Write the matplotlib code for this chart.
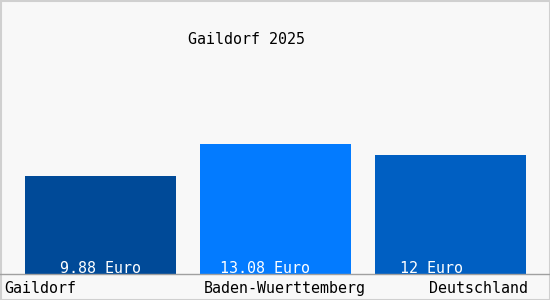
import matplotlib.pyplot as plt

orte = ["Gaildorf", "Baden-Wuerttemberg", "Deutschland"]
werte = [9.88, 13.08, 12.0]
beschriftung = ["9.88 Euro", "13.08 Euro", "12 Euro"]
farben = ["#004a98", "#037bff", "#005fc2"]

W, H = 550, 300
fig = plt.figure(figsize=(W / 100, H / 100), dpi=100)
fig.patch.set_facecolor("#f8f8f8")

# axes placed in pixel terms: baseline at y=274, 9.93 px per Euro
x0, x1 = 13, 538
yb, yt = 274, 20
ax = fig.add_axes([x0 / W, (H - yb) / H, (x1 - x0) / W, (yb - yt) / H])
ax.set_facecolor("#f8f8f8")
ax.set_xlim(-0.5, 2.5)
ax.set_ylim(0, (yb - yt) / 9.93)
for s in ax.spines.values():
    s.set_visible(False)
ax.set_xticks([])
ax.set_yticks([])

pos = range(len(orte))
ax.bar(pos, werte, width=151 / 175, color=farben)

font = "DejaVu Sans Mono"
fs = 10.8
# value labels sit a bit off-centre, like in the original
versatz = [0.0, -0.06, -0.11]
for i, t in enumerate(beschriftung):
    fig.text((x0 + 87.5 + 175 * (i + versatz[i])) / W, 1 - 273 / H, t,
             color="white", ha="center", va="baseline", fontsize=fs, family=font)

# x labels under the baseline
lab_x = [4, 204, 429]
for t, px in zip(orte, lab_x):
    fig.text(px / W, 1 - 293 / H, t, ha="left", va="baseline", fontsize=fs,
             family=font, color="black")

fig.text(247 / W, 1 - 44 / H, "Gaildorf 2025", ha="center", va="baseline",
         fontsize=fs, family=font, color="black")

# baseline across the whole picture and light frame
fig.add_artist(plt.Line2D([0, 1], [(H - yb) / H] * 2, color="#a0a0a0", lw=1))
fig.add_artist(plt.Rectangle((0.5 / W, 0.5 / H), 1 - 1 / W, 1 - 1 / H,
                             fill=False, edgecolor="#d0d0d0", lw=1.5))

fig.savefig("out.png", dpi=100, facecolor=fig.get_facecolor())
